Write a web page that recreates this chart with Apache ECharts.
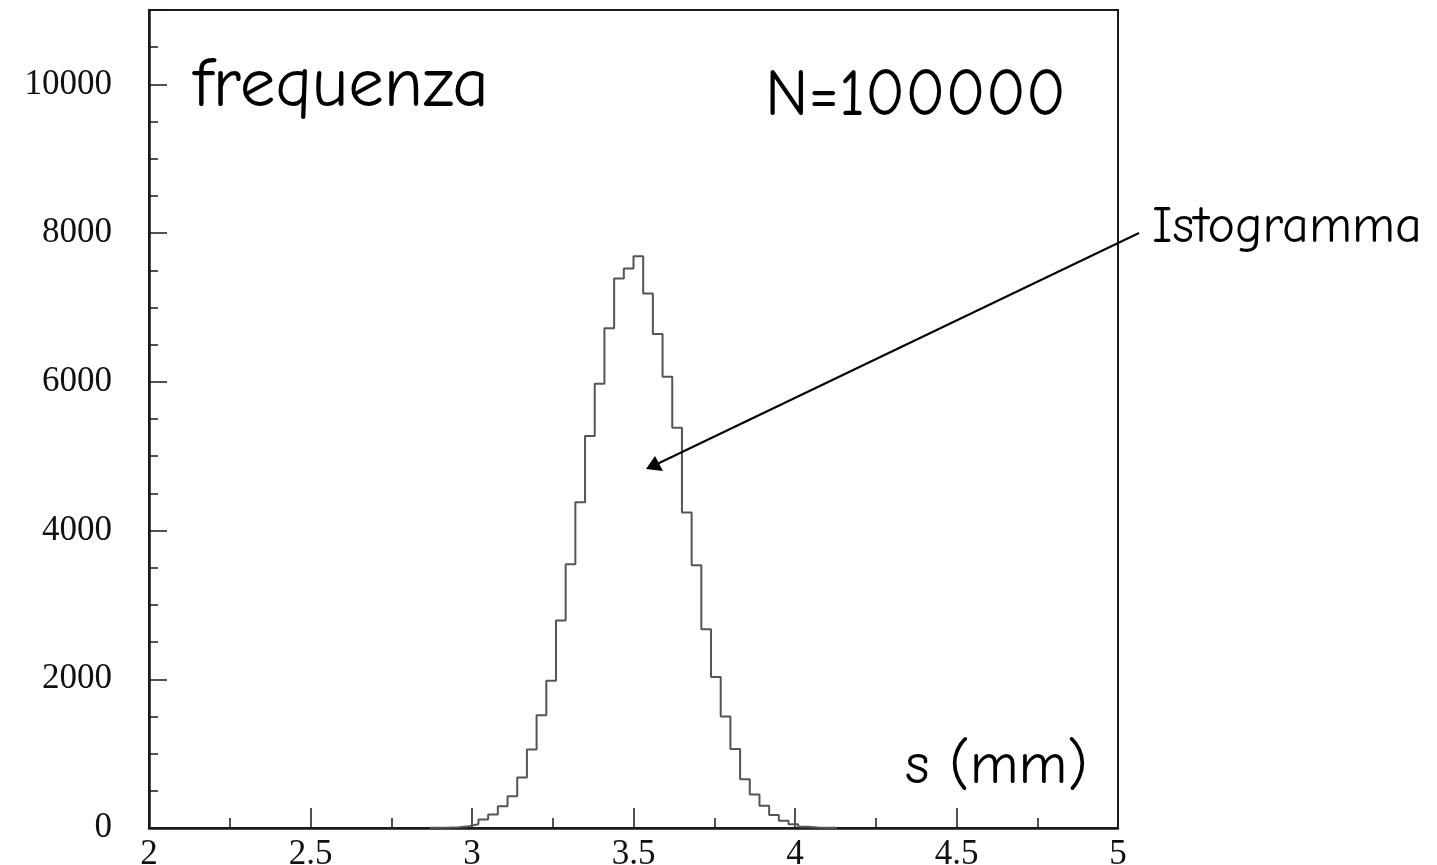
<!DOCTYPE html>
<html>
<head>
<meta charset="utf-8">
<script src="https://cdn.jsdelivr.net/npm/echarts@6/dist/echarts.min.js"></script>
<style>
html,body{margin:0;padding:0;background:#fff;}
#chart{width:1437px;height:865px;}
</style>
</head>
<body>
<div id="chart"></div>
<script>
// ---- data ----
var binStart = 2.87;      // left edge of first listed bin (s, mm)
var binWidth = 0.03;      // bin width (mm)
var counts = [3, 6, 10, 25, 50, 113, 180, 293, 427, 679, 1054, 1517, 1980, 2792, 3548,
  4381, 5270, 5975, 6721, 7389, 7523, 7687, 7189, 6643, 6068, 5384, 4242, 3533, 2674,
  2031, 1501, 1064, 655, 452, 300, 174, 98, 50, 18, 8, 4, 2];
var xTicks = [2, 2.5, 3, 3.5, 4, 4.5, 5];
var yTicks = [0, 2000, 4000, 6000, 8000, 10000];
var labelFreq = 'frequenza';
var labelN = 'N=100000';
var labelHist = 'Istogramma';
var labelS = 's (mm)';

// build step outline points (left edge, count) + closing right edge
var pts = [];
for (var i = 0; i < counts.length; i++) {
  pts.push([+(binStart + i * binWidth).toFixed(4), counts[i]]);
}
pts.push([+(binStart + counts.length * binWidth).toFixed(4), counts[counts.length - 1]]);

var chart = echarts.init(document.getElementById('chart'), null, {renderer: 'canvas'});
var serif = '"Liberation Serif", "DejaVu Serif", serif';
var hand = '"Comic Sans MS", "Comic Neue", "DejaVu Sans", sans-serif';
var axisColor = '#1a1a1a';

chart.setOption({
  animation: false,
  backgroundColor: '#ffffff',
  grid: {left: 149, right: 319, top: 10, bottom: 37, show: true,
         containLabel: false, outerBoundsMode: 'none',
         borderColor: axisColor, borderWidth: 2, backgroundColor: 'transparent'},
  xAxis: [{
    type: 'value', min: xTicks[0], max: xTicks[xTicks.length - 1], interval: 0.5,
    position: 'bottom',
    axisLine: {show: true, onZero: false, lineStyle: {color: axisColor, width: 2.5}},
    axisTick: {show: true, inside: true, length: 20, lineStyle: {color: axisColor, width: 1.5}},
    minorTick: {show: true, splitNumber: 2, length: 10, lineStyle: {color: axisColor, width: 1.5}},
    axisLabel: {show: true, margin: 9, color: '#111', fontFamily: serif, fontSize: 35,
      formatter: function (v) { return xTicks.indexOf(v) >= 0 ? String(v) : ''; }},
    splitLine: {show: false}
  }],
  yAxis: [{
    type: 'value', min: 0, max: 11000, interval: 2000,
    axisLine: {show: true, onZero: false, lineStyle: {color: axisColor, width: 2.5}},
    axisTick: {show: true, inside: true, length: 18, lineStyle: {color: axisColor, width: 1.5}},
    axisLabel: {show: true, margin: 37, color: '#111', fontFamily: serif, fontSize: 35,
      formatter: function (v) { return yTicks.indexOf(v) >= 0 ? String(v) : ''; }},
    splitLine: {show: false}
  }, {
    type: 'value', min: 0, max: 11000, interval: 500, position: 'left',
    axisLine: {show: false},
    axisTick: {show: true, inside: true, length: 9, lineStyle: {color: axisColor, width: 1.5}},
    axisLabel: {show: false},
    splitLine: {show: false}
  }],
  series: [{
    type: 'line',
    xAxisIndex: 0, yAxisIndex: 0,
    step: 'end',
    data: pts,
    symbol: 'none',
    lineStyle: {color: '#555555', width: 2},
    z: 3
  }],
  graphic: [
    {type: 'text', left: 193, top: 50, z: 10,
     style: {text: labelFreq, font: '71px ' + hand, fill: '#000'}},
    {type: 'text', left: 765, top: 63, z: 10,
     style: {text: labelN, font: '66px ' + hand, fill: '#000'}},
    {type: 'text', left: 1152, top: 201, z: 10,
     style: {text: labelHist, font: '52px ' + hand, fill: '#000'}},
    {type: 'text', left: 905, top: 737, z: 10,
     style: {text: labelS, font: '59px ' + hand, fill: '#000'}},
    {type: 'line', z: 10,
     shape: {x1: 1139, y1: 233, x2: 655, y2: 465},
     style: {stroke: '#000', lineWidth: 2}},
    {type: 'polygon', z: 10,
     shape: {points: [[646, 469], [655, 456], [663, 471]]},
     style: {fill: '#000'}}
  ]
});
</script>
</body>
</html>
